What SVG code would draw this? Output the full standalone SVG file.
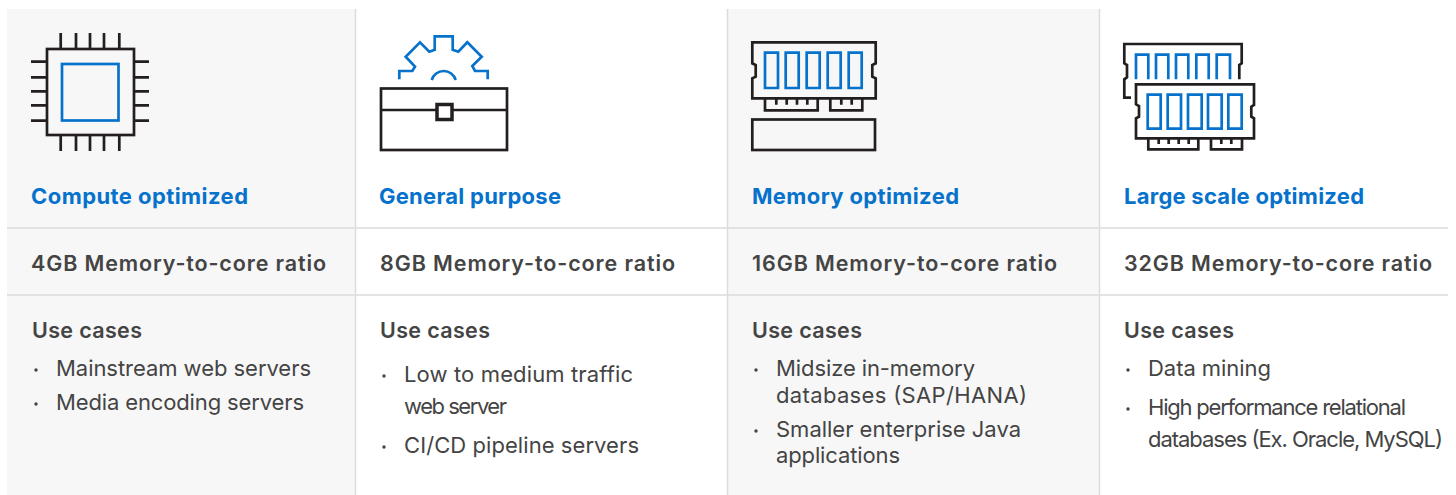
<svg xmlns="http://www.w3.org/2000/svg" width="1456" height="495" viewBox="0 0 1456 495">
<style>
text{font-family:"Inter","Liberation Sans",sans-serif;fill:#444}
.h{font-size:22px;font-weight:700;fill:#0672cb}
.r{font-size:21.500px;font-weight:600}
.u{font-size:21.500px;font-weight:600}
.t{font-size:22px;font-weight:400}
.k{fill:none;stroke:#231f20;stroke-width:2.700}
.b{fill:none;stroke:#0672cb;stroke-width:2.700}
.g{fill:#f7f7f7}
.l{stroke:#dcdcdc;stroke-width:1.500;fill:none}
.d{fill:#444}
</style>
<g id="background">
<rect class="g" x="7" y="9" width="348" height="486"/>
<rect class="g" x="728" y="9" width="371" height="486"/>
<path class="l" d="M355.500 9V495M727.500 9V495M1099.500 9V495M7 228H1448M7 295H1448"/>
</g>
<g id="col-compute">
<rect class="k" x="47" y="49" width="87" height="86"/>
<rect class="b" x="62" y="64" width="56.500" height="56.500"/>
<path class="k" d="M60.700 33V48M76 33V48M90 33V48M104 33V48M119.300 33V48M60.700 136V151M76 136V151M90 136V151M104 136V151M119.300 136V151M31 61.700H46M31 77.300H46M31 91.300H46M31 105.300H46M31 120.700H46M135 61.700H149M135 77.300H149M135 91.300H149M135 105.300H149M135 120.700H149"/>
<text class="h" x="31" y="204" textLength="217">Compute optimized</text>
<text class="r" x="31" y="271" textLength="295">4GB Memory-to-core ratio</text>
<text class="u" x="32" y="338" textLength="110">Use cases</text>
<circle class="d" cx="36" cy="370" r="1.700"/><text class="t" x="56" y="376" textLength="255">Mainstream web servers</text>
<circle class="d" cx="36" cy="404" r="1.700"/><text class="t" x="56" y="410" textLength="248">Media encoding servers</text>
</g>
<g id="col-general">
<rect class="k" x="381" y="88.500" width="126" height="61.500"/>
<path class="k" d="M381 110H436M452 110H507"/>
<rect class="k" x="437" y="104.500" width="15" height="15" style="stroke-width:3.500"/>
<path class="b" d="M399.300 79.300V71H412.300L415 66.700L405.700 56.700L420 42.300L429.300 51.700L434.700 49.700V36.300H452.700V49.700L458.300 51.700L467.300 42.300L481.700 56.700L472.300 66L475 71H487.700V79.300"/>
<path class="b" d="M431.700 80A12.500 12.500 0 0 1 455.700 80"/>
<text class="h" x="379" y="204" textLength="182">General purpose</text>
<text class="r" x="380" y="271" textLength="295">8GB Memory-to-core ratio</text>
<text class="u" x="380" y="338" textLength="110">Use cases</text>
<circle class="d" cx="384" cy="376" r="1.700"/><text class="t" x="404" y="382" textLength="229">Low to medium traffic</text>
<text class="t" x="404" y="414" textLength="103">web server</text>
<circle class="d" cx="384" cy="447" r="1.700"/><text class="t" x="404" y="453" textLength="235">CI/CD pipeline servers</text>
</g>
<g id="col-memory">
<path class="k" d="M752.300 42.300H875.700V63.300L872.300 65V76.700L875.700 78.300V98.300H752.300V78.300L755.700 76.700V65L752.300 63.300Z"/>
<path class="b" d="M765 52.700H778V88H765ZM785.700 52.700H798.700V88H785.700ZM806.700 52.700H819.700V88H806.700ZM827.700 52.700H840.700V88H827.700ZM848.700 52.700H861.700V88H848.700Z"/>
<path class="k" d="M765 98.300V110.300H817.700V98.300M830.300 98.300V110.300H862.300V98.300M776.300 98.300V104.700M786.700 98.300V104.700M797 98.300V104.700M807.300 98.300V104.700M841.300 98.300V104.700M851.700 98.300V104.700"/>
<rect class="k" x="752.300" y="119.500" width="122.700" height="30.500"/>
<text class="h" x="752" y="204" textLength="207">Memory optimized</text>
<text class="r" x="752" y="271" textLength="305">16GB Memory-to-core ratio</text>
<text class="u" x="752" y="338" textLength="110">Use cases</text>
<circle class="d" cx="756" cy="370" r="1.700"/><text class="t" x="776" y="376" textLength="199">Midsize in-memory</text>
<text class="t" x="776" y="403" textLength="251">databases (SAP/HANA)</text>
<circle class="d" cx="756" cy="431" r="1.700"/><text class="t" x="776" y="437" textLength="245">Smaller enterprise Java</text>
<text class="t" x="776" y="463" textLength="124">applications</text>
</g>
<g id="col-large">
<path class="k" d="M1131 97.700H1124.300V79.300L1127 77.300V65L1124.300 63.300V44H1241.700V63.300L1239.300 65V79.300"/>
<path class="b" d="M1136 79.300V54.700H1148.300V79.300M1156 79.300V54.700H1168.300V79.300M1176 79.300V54.700H1188.300V79.300M1196.300 79.300V54.700H1208.700V79.300M1216.700 79.300V54.700H1230V79.300"/>
<path class="k" d="M1136 84.300H1254V105L1251.300 106.700V116.700L1254 118.300V138.300H1136V118.300L1139 116.700V106L1136 104.300Z"/>
<path class="b" d="M1147.700 94.700H1160.700V128.700H1147.700ZM1167.700 94.700H1181V128.700H1167.700ZM1188 94.700H1201.700V128.700H1188ZM1208 94.700H1221.700V128.700H1208ZM1228.300 94.700H1241.700V128.700H1228.300Z"/>
<path class="k" d="M1148.300 138.300V149.300H1198.300V138.300M1211 138.300V149.300H1242V138.300M1158.700 138.300V144M1168.700 138.300V144M1178.700 138.300V144M1188.700 138.300V144M1221.300 138.300V144M1231.300 138.300V144"/>
<text class="h" x="1124" y="204" textLength="240">Large scale optimized</text>
<text class="r" x="1124" y="271" textLength="308">32GB Memory-to-core ratio</text>
<text class="u" x="1124" y="338" textLength="110">Use cases</text>
<circle class="d" cx="1128" cy="370" r="1.700"/><text class="t" x="1148" y="376" textLength="123">Data mining</text>
<circle class="d" cx="1128" cy="409" r="1.700"/><text class="t" x="1148" y="415" textLength="258">High performance relational</text>
<text class="t" x="1148" y="447" textLength="295">databases (Ex. Oracle, MySQL)</text>
</g>
</svg>
